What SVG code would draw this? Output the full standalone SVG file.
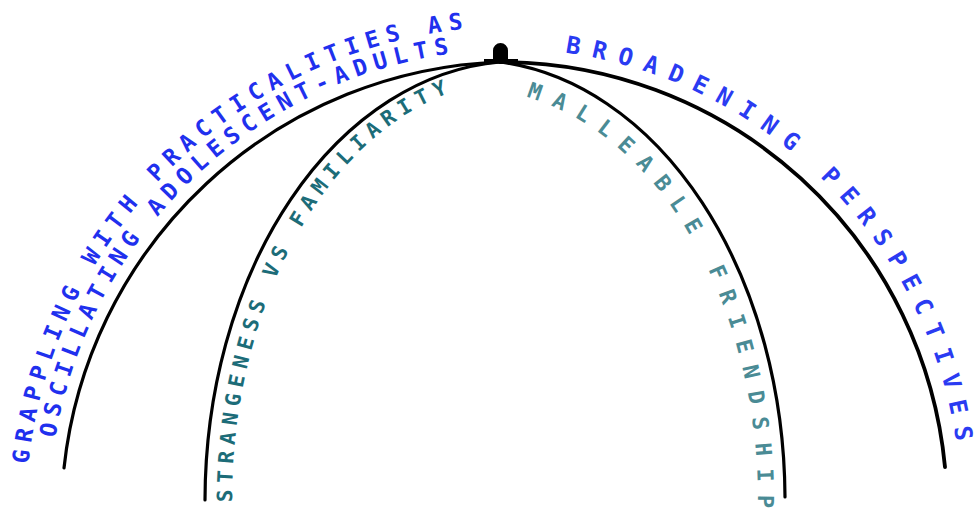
<svg xmlns="http://www.w3.org/2000/svg" xmlns:xlink="http://www.w3.org/1999/xlink" width="977" height="510" viewBox="0 0 977 510">
  <style>
    .arc { fill: none; stroke: #000; stroke-width: 3.2; stroke-linecap: round; }
    .lbl { font-family: "DejaVu Sans Mono", "Liberation Mono", monospace; font-weight: bold; }
    .blue { fill: #1f30ee; }
    .blue2 { fill: #2a3bf2; }
    .teal { fill: #1c6c78; }
    .teal2 { fill: #4a8b95; }
  </style>
  <defs>
    <path id="p-grap1" d="M 28.44 464.13 A 491 491 0 0 1 601.9 33.36"/>
    <path id="p-grap2" d="M 55.33 437.80 A 468 468 0 0 1 557.39 50.68"/>
    <path id="p-broad" d="M 565.12 52.62 A 461 461 0 0 1 959.24 549.18"/>
    <path id="p-strange" d="M 232 502 A 288 422 0 0 1 618.5 105.45"/>
    <path id="p-mall" d="M 470 89 A 288 413 0 0 1 748.2 608.9"/>
  </defs>
  <rect width="977" height="510" fill="#fff"/>
  <g id="connectors">
    <path class="arc" d="M 64 468 A 455 455 0 0 1 500 62"/>
    <path class="arc" d="M 205 500 A 315 440 0 0 1 500 62"/>
    <path class="arc" d="M 500 62 A 315 440 0 0 1 785 497"/>
    <path class="arc" style="stroke-width:3.8" d="M 500 62 A 447 447 0 0 1 945 467"/>
  </g>
  <g id="hub">
    <rect x="484" y="59" width="34" height="4" fill="#000"/>
    <path d="M 493 62 L 493 50.5 A 7.5 7.5 0 0 1 508 50.5 L 508 62 Z" fill="#000"/>
  </g>
  <g id="grappling">
    <text class="lbl blue" font-size="23" letter-spacing="7.15"><textPath xlink:href="#p-grap1" href="#p-grap1">GRAPPLING WITH PRACTICALITIES AS</textPath></text>
    <text class="lbl blue" font-size="23" letter-spacing="6.65"><textPath xlink:href="#p-grap2" href="#p-grap2">OSCILLATING ADOLESCENT-ADULTS</textPath></text>
  </g>
  <g id="strangeness">
    <text class="lbl teal" font-size="21" letter-spacing="6.4"><textPath xlink:href="#p-strange" href="#p-strange">STRANGENESS VS FAMILIARITY</textPath></text>
  </g>
  <g id="malleable">
    <text class="lbl teal2" font-size="22" letter-spacing="12.56"><textPath xlink:href="#p-mall" href="#p-mall" startOffset="57">MALLEABLE FRIENDSHIP</textPath></text>
  </g>
  <g id="broadening">
    <text class="lbl blue2" font-size="24" letter-spacing="11.75"><textPath xlink:href="#p-broad" href="#p-broad">BROADENING PERSPECTIVES</textPath></text>
  </g>
</svg>
